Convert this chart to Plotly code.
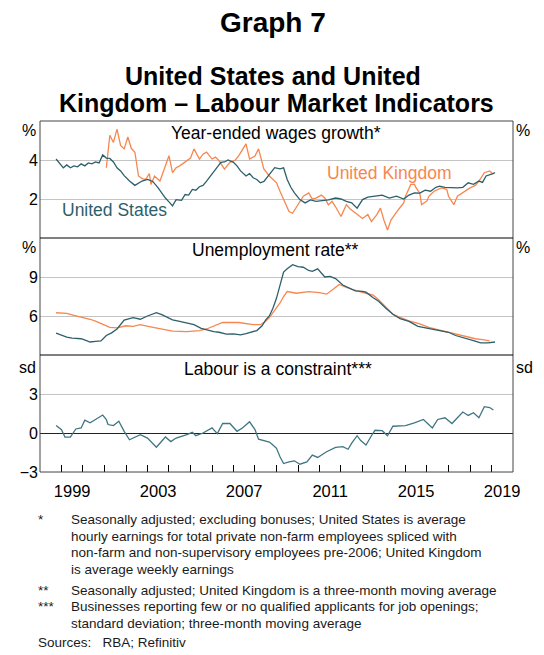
import plotly.graph_objects as go

# ---------------- Data ----------------
us_wage_dates = ["1998-10","1998-12","1999-02","1999-04","1999-06","1999-08","1999-10","1999-12",
    "2000-02","2000-04","2000-06","2000-08","2000-10","2000-12","2001-02","2001-04","2001-06","2001-08",
    "2001-10","2001-12","2002-03","2002-06","2002-08","2002-10","2003-01","2003-04","2003-07","2003-09",
    "2003-11","2004-01","2004-03","2004-05","2004-08","2004-10","2004-12","2005-02","2005-04","2005-06",
    "2005-08","2005-10","2006-01","2006-04","2006-06","2006-08","2006-10","2007-01","2007-03","2007-05",
    "2007-08","2007-10","2007-12","2008-02","2008-04","2008-06","2008-09","2008-12","2009-03","2009-05",
    "2009-07","2009-09","2009-11","2010-02","2010-05","2010-08","2010-11","2011-02","2011-06","2011-10",
    "2012-01","2012-04","2012-07","2012-10","2013-01","2013-04","2013-08","2013-12","2014-04","2014-08",
    "2014-12","2015-03","2015-06","2015-09","2015-12","2016-03","2016-06","2016-08","2016-11","2017-03",
    "2017-06","2017-09","2017-12","2018-03","2018-06","2018-08","2018-10","2019-01","2019-03"]
us_wage = [4.05,3.8,3.6,3.75,3.6,3.7,3.65,3.8,
    3.7,3.85,3.8,3.9,3.85,4.26,4.1,4.08,3.9,3.6,
    3.44,3.2,2.92,2.7,2.8,2.92,3.0,2.9,2.57,2.3,
    2.05,1.85,1.65,1.97,1.93,2.23,2.2,2.49,2.45,2.63,
    2.7,2.92,3.27,3.61,3.88,3.9,4.0,3.88,3.7,3.44,
    3.18,3.3,3.09,3.0,2.83,2.9,3.27,3.61,3.55,3.6,
    3.0,2.6,2.31,1.97,1.8,1.95,1.88,1.9,1.95,2.05,
    2.0,1.88,1.8,1.53,1.97,2.1,2.14,2.2,2.05,2.15,
    2.0,2.2,2.31,2.3,2.45,2.4,2.6,2.66,2.6,2.57,
    2.57,2.6,2.83,2.75,2.92,2.85,3.18,3.27,3.35]

uk_wage_dates = ["2001-02","2001-04","2001-06","2001-08","2001-10","2001-12","2002-02","2002-04",
    "2002-06","2002-08","2002-10","2002-12","2003-02","2003-03","2003-05","2003-08","2003-10","2004-01",
    "2004-03","2004-05","2004-07","2004-10","2005-01","2005-03","2005-06","2005-08","2005-10","2006-01",
    "2006-03","2006-05","2006-08","2006-11","2007-02","2007-04","2007-06","2007-08","2007-10","2008-01",
    "2008-03","2008-06","2008-09","2008-11","2009-01","2009-03","2009-05","2009-08","2009-10","2010-01",
    "2010-04","2010-07","2010-09","2010-11","2011-02","2011-04","2011-06","2011-08","2011-10","2012-01",
    "2012-04","2012-06","2012-09","2013-01","2013-04","2013-06","2013-09","2013-11","2014-01","2014-03",
    "2014-05","2014-07","2014-09","2014-12","2015-01","2015-04","2015-06","2015-07","2015-09","2015-10",
    "2016-01","2016-02","2016-05","2016-09","2016-12","2017-01","2017-04","2017-06","2017-10","2018-01",
    "2018-04","2018-06","2018-09","2018-12","2019-02"]
uk_wage = [3.6,5.27,4.9,5.58,4.75,4.57,5.18,4.6,
    4.4,3.18,3.05,3.0,3.3,2.75,3.18,2.92,3.44,4.22,
    3.35,3.6,3.7,3.88,4.1,4.57,4.05,4.3,4.4,4.05,
    4.15,3.96,3.53,3.88,4.0,4.22,4.5,4.83,4.05,4.2,
    4.57,3.53,3.18,3.0,2.83,2.4,1.97,1.36,1.27,1.71,
    2.14,2.31,2.0,2.05,2.2,2.05,1.7,1.88,1.6,1.1,
    1.71,1.5,1.27,1.0,1.2,0.84,1.2,1.53,0.9,0.41,
    0.93,1.2,1.45,1.8,2.14,2.75,2.75,2.57,2.3,1.71,
    1.9,2.14,2.4,2.57,2.5,2.14,1.71,2.14,2.4,2.57,
    2.7,2.92,3.35,3.44,3.27]

us_unemp_dates = ["1998-10","1999-01","1999-04","1999-07","1999-12","2000-03","2000-05","2000-08",
    "2000-11","2001-02","2001-05","2001-08","2001-12","2002-05","2002-09","2003-01","2003-06","2003-09",
    "2003-12","2004-03","2004-07","2004-11","2005-03","2005-07","2005-10","2006-02","2006-05","2006-09",
    "2007-01","2007-05","2007-08","2007-11","2008-02","2008-05","2008-07","2008-09","2008-11","2009-01",
    "2009-03","2009-05","2009-07","2009-10","2010-01","2010-04","2010-07","2010-09","2010-12","2011-04",
    "2011-07","2011-10","2012-02","2012-05","2012-09","2013-01","2013-03","2013-07","2013-10","2014-02",
    "2014-06","2014-10","2015-03","2015-08","2016-02","2016-06","2017-01","2017-05","2017-12","2018-03",
    "2018-07","2018-11","2019-03"]
us_unemp = [4.68,4.5,4.38,4.3,4.25,4.1,4.0,4.05,
    4.08,4.5,4.7,5.0,5.68,5.88,5.75,6.0,6.25,6.1,
    5.88,5.7,5.58,5.45,5.33,5.05,4.93,4.8,4.75,4.6,
    4.63,4.55,4.65,4.75,4.88,5.25,5.7,6.0,6.6,7.38,
    8.38,9.38,9.63,9.95,9.8,9.75,9.5,9.43,9.63,9.0,
    9.05,8.88,8.38,8.2,7.93,7.9,7.83,7.4,7.13,6.6,
    6.13,5.8,5.58,5.2,5.05,4.95,4.75,4.5,4.25,4.1,
    3.93,3.93,4.0]

uk_unemp_dates = ["1998-10","1999-01","1999-04","1999-08","1999-12","2000-05","2000-08","2000-11",
    "2001-04","2001-08","2002-01","2002-05","2002-09","2003-02","2003-08","2004-03","2004-11","2005-06",
    "2005-10","2006-02","2006-07","2007-04","2007-08","2007-12","2008-04","2008-07","2008-09","2008-12",
    "2009-03","2009-05","2009-07","2009-12","2010-04","2010-07","2011-01","2011-05","2011-09","2011-12",
    "2012-04","2012-08","2013-03","2013-07","2013-10","2014-02","2014-06","2014-10","2015-03","2015-09",
    "2016-02","2016-07","2017-01","2017-06","2017-12","2018-04","2018-08","2018-12"]
uk_unemp = [6.25,6.2,6.2,6.05,5.93,5.75,5.6,5.43,
    5.13,5.08,5.25,5.2,5.33,5.18,5.0,4.83,4.8,4.88,
    5.0,5.25,5.5,5.5,5.4,5.33,5.33,5.6,5.88,6.4,
    7.0,7.5,7.88,7.75,7.85,7.88,7.8,7.68,8.1,8.43,
    8.2,8.0,7.75,7.6,7.25,6.7,6.13,5.9,5.63,5.4,
    5.13,4.95,4.75,4.55,4.38,4.25,4.18,4.08]

constraint_dates = ["1998-10","1999-01","1999-03","1999-06","1999-09","1999-12","2000-02","2000-05",
    "2000-08","2000-12","2001-02","2001-03","2001-06","2001-09","2001-12","2002-03","2002-09","2003-01",
    "2003-06","2003-11","2004-02","2004-05","2004-11","2005-02","2005-04","2005-08","2006-01","2006-04",
    "2006-07","2006-11","2007-03","2007-06","2007-10","2008-01","2008-03","2008-07","2008-09","2008-11",
    "2009-01","2009-03","2009-05","2009-08","2009-11","2010-02","2010-06","2010-09","2010-12","2011-05",
    "2011-10","2012-02","2012-05","2012-07","2012-10","2012-12","2013-03","2013-06","2013-08","2013-12",
    "2014-03","2014-06","2015-01","2015-06","2015-11","2016-04","2016-07","2016-11","2017-03","2017-06",
    "2017-09","2017-12","2018-03","2018-06","2018-09","2018-12","2019-02"]
constraint = [0.57,0.26,-0.31,-0.31,0.31,0.39,0.99,0.78,
    1.04,1.38,1.04,0.65,0.57,0.91,0.13,-0.52,-0.13,-0.39,
    -1.1,-0.31,-0.66,-0.39,-0.13,0.05,-0.21,0.0,0.39,-0.05,
    0.73,0.73,0.13,0.39,0.86,0.26,-0.47,-0.66,-0.7,-0.92,
    -1.18,-1.83,-2.35,-2.22,-2.14,-2.4,-2.22,-1.7,-1.88,-1.44,
    -1.1,-1.05,-1.25,-0.78,-0.21,-0.58,-0.92,-0.21,0.21,0.18,
    -0.21,0.52,0.57,0.78,1.04,0.39,1.04,1.17,0.73,1.17,
    1.61,1.35,1.56,1.17,2.03,1.96,1.77]

year_ticks = [str(y) + "-01-01" for y in range(1999, 2020)]
year_label_pos = ["1999-07-01", "2003-07-01", "2007-07-01", "2011-07-01", "2015-07-01", "2019-07-01"]
year_labels = ["1999", "2003", "2007", "2011", "2015", "2019"]

top_ticks = [2, 4]
mid_ticks = [6, 9]
bot_ticks = [-3, 0, 3]

# ---------------- Styling ----------------
US_COL = "#2d5f6b"
UK_COL = "#f7874f"
CON_COL = "#3f7683"
FONT = "Arial, Liberation Sans, sans-serif"
GRID = "#c4c4c4"

# The page body has an 8px margin, so the figure is laid out 8px up/left of screen coords.
OFF = 8
PL, PR, PT, PB = 38, 513, 121, 472          # plot area in screen pixels
def X(px):
    return (px - PL) / (PR - PL)
def Y(py):
    return (PB - py) / (PB - PT)

fig = go.Figure()
fig.add_trace(go.Scatter(x=uk_wage_dates, y=uk_wage, xaxis="x", yaxis="y", mode="lines",
                         line=dict(color=UK_COL, width=1.3), hoverinfo="skip"))
fig.add_trace(go.Scatter(x=us_wage_dates, y=us_wage, xaxis="x", yaxis="y", mode="lines",
                         line=dict(color=US_COL, width=1.3), hoverinfo="skip"))
fig.add_trace(go.Scatter(x=uk_unemp_dates, y=uk_unemp, xaxis="x", yaxis="y2", mode="lines",
                         line=dict(color=UK_COL, width=1.3), hoverinfo="skip"))
fig.add_trace(go.Scatter(x=us_unemp_dates, y=us_unemp, xaxis="x", yaxis="y2", mode="lines",
                         line=dict(color=US_COL, width=1.3), hoverinfo="skip"))
fig.add_trace(go.Scatter(x=constraint_dates, y=constraint, xaxis="x", yaxis="y3", mode="lines",
                         line=dict(color=CON_COL, width=1.3), hoverinfo="skip"))

tickfont = dict(size=16, color="black", family=FONT)

def yax(domain, rng, ticks, **kw):
    d = dict(domain=domain, range=rng, tickvals=ticks, anchor="x", ticks="",
             showgrid=True, gridcolor=GRID, gridwidth=1, zeroline=False,
             showline=False, tickfont=tickfont, fixedrange=True, ticklabelstandoff=1)
    d.update(kw)
    return d

def yax_r(over, rng, ticks):
    return dict(overlaying=over, side="right", range=rng, tickvals=ticks, anchor="x",
                ticks="", showgrid=False, zeroline=False, showline=False,
                tickfont=tickfont, fixedrange=True)

fig.update_layout(
    width=544, height=655,
    margin=dict(l=PL - OFF, r=544 - (PR - OFF), t=PT - OFF, b=655 - (PB - OFF)),
    paper_bgcolor="white", plot_bgcolor="white",
    showlegend=False,
    font=dict(family=FONT, color="black"),
    xaxis=dict(type="date", range=["1998-01-01", "2020-01-01"], anchor="y3",
               tickvals=year_label_pos, ticktext=year_labels, ticks="",
               showgrid=False, zeroline=False, showline=False,
               tickfont=dict(size=16.5, color="black", family=FONT),
               ticklabelstandoff=7, fixedrange=True,
               minor=dict(tickvals=year_ticks, ticks="inside", ticklen=7,
                          tickcolor="black", tickwidth=1, showgrid=False)),
    yaxis=yax([2/3, 1], [0, 6], top_ticks),
    yaxis2=yax([1/3, 2/3], [3, 12], mid_ticks),
    yaxis3=yax([0, 1/3], [-3, 6], bot_ticks, zeroline=True, zerolinecolor="#222", zerolinewidth=1),
    yaxis4=yax_r("y", [0, 6], top_ticks),
    yaxis5=yax_r("y2", [3, 12], mid_ticks),
    yaxis6=yax_r("y3", [-3, 6], bot_ticks),
)

# frame and panel dividers
fig.add_shape(type="rect", xref="paper", yref="paper", x0=0, x1=1, y0=0, y1=1,
              line=dict(color="#444", width=1), layer="above")
for yy in (1/3, 2/3):
    fig.add_shape(type="line", xref="paper", yref="paper", x0=0, x1=1, y0=yy, y1=yy,
                  line=dict(color="black", width=1), layer="above")

def ann(text, px, py, size=17.5, color="black", xanchor="center", bold=False):
    fig.add_annotation(text=("<b>%s</b>" % text) if bold else text, x=X(px), y=Y(py),
                       xref="paper", yref="paper", showarrow=False,
                       xanchor=xanchor, yanchor="middle", align="left",
                       font=dict(size=size, color=color, family=FONT))

# titles
ann("Graph 7", 272, 23, size=28, bold=True)
ann("United States and United", 272, 75.5, size=25, bold=True)
ann("Kingdom – Labour Market Indicators", 276, 103, size=25, bold=True)

# panel titles
ann("Year-ended wages growth*", 275, 133)
ann("Unemployment rate**", 274, 250)
ann("Labour is a constraint***", 277, 369)

# series labels
ann("United States", 113, 210, color=US_COL)
ann("United Kingdom", 389, 173, color=UK_COL)

# unit labels
for txt, yy in (("%", 130.5), ("%", 247.5), ("sd", 367.5)):
    ann(txt, 36, yy, size=16, xanchor="right")
    ann(txt, 514, yy, size=16, xanchor="left")

# footnotes
FN = 13.5
FC = "#1a1a1a"
footnotes = [
    ("*", 519.5, ["Seasonally adjusted; excluding bonuses; United States is average",
                  "hourly earnings for total private non-farm employees spliced with",
                  "non-farm and non-supervisory employees pre-2006; United Kingdom",
                  "is average weekly earnings"]),
    ("**", 590, ["Seasonally adjusted; United Kingdom is a three-month moving average"]),
    ("***", 606.7, ["Businesses reporting few or no qualified applicants for job openings;",
                    "standard deviation; three-month moving average"]),
]
for mark, y0, lines in footnotes:
    ann(mark, 34, y0, size=FN, color=FC, xanchor="left")
    for i, line in enumerate(lines):
        ann(line, 67, y0 + i * 16.6, size=FN, color=FC, xanchor="left")
ann("Sources:&nbsp;&nbsp; RBA; Refinitiv", 34, 642.5, size=FN, color=FC, xanchor="left")

fig.write_html("out.html")
